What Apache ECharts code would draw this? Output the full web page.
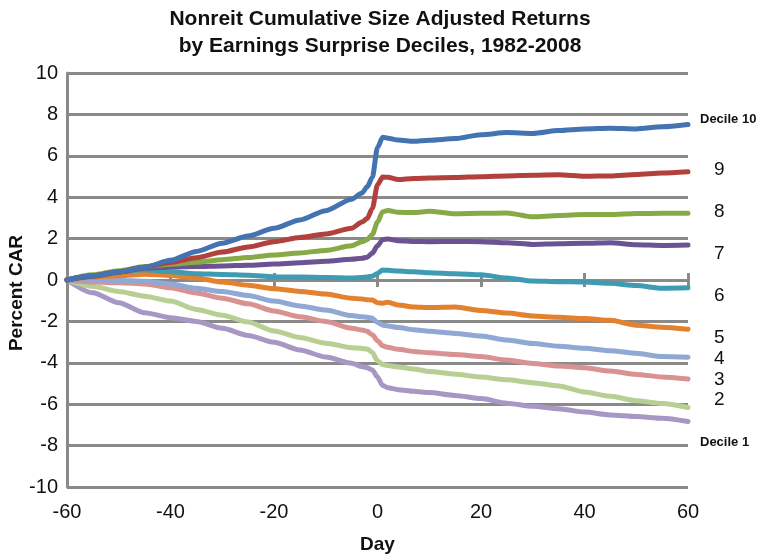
<!DOCTYPE html>
<html>
<head>
<meta charset="utf-8">
<script src="https://cdn.jsdelivr.net/npm/echarts@6/dist/echarts.min.js"></script>
<style>html,body{margin:0;padding:0;background:#fff}#c{width:760px;height:559px}</style>
</head>
<body>
<div id="c"></div>
<script>
var days = [-60,-55,-50,-45,-40,-35,-30,-25,-20,-15,-10,-5,-3,-2,-1,0,1,2,4,7,10,15,20,25,30,35,40,45,50,55,60];
var decile10 = [0,0.2,0.4,0.62,0.95,1.38,1.78,2.12,2.5,2.9,3.35,3.9,4.2,4.5,4.95,6.4,6.9,6.85,6.76,6.7,6.75,6.83,7.02,7.12,7.08,7.22,7.3,7.33,7.3,7.4,7.51];
var decile9 = [0,0.2,0.4,0.62,0.85,1.08,1.35,1.6,1.85,2.05,2.22,2.5,2.8,2.97,3.45,4.6,4.97,4.96,4.85,4.9,4.93,4.95,4.99,5.03,5.06,5.08,5.01,5.03,5.1,5.17,5.23];
var decile8 = [0,0.25,0.45,0.65,0.76,0.86,0.98,1.09,1.21,1.31,1.43,1.65,1.85,1.95,2.2,2.8,3.3,3.36,3.27,3.26,3.32,3.2,3.22,3.24,3.05,3.12,3.16,3.16,3.21,3.22,3.22];
var decile7 = [0,0.18,0.38,0.58,0.63,0.65,0.68,0.71,0.77,0.83,0.9,1.0,1.05,1.1,1.3,1.65,1.95,1.98,1.9,1.86,1.85,1.86,1.85,1.8,1.72,1.75,1.77,1.8,1.7,1.67,1.69];
var decile6 = [0,0.22,0.4,0.5,0.4,0.3,0.27,0.23,0.15,0.14,0.12,0.1,0.12,0.15,0.18,0.32,0.48,0.47,0.43,0.4,0.35,0.3,0.25,0.1,-0.05,-0.08,-0.1,-0.16,-0.27,-0.4,-0.38];
var decile5 = [0,0.15,0.2,0.28,0.22,0.1,-0.1,-0.25,-0.42,-0.55,-0.68,-0.88,-0.92,-0.95,-0.97,-1.1,-1.12,-1.07,-1.21,-1.3,-1.33,-1.3,-1.47,-1.6,-1.74,-1.8,-1.86,-1.95,-2.18,-2.28,-2.38];
var decile4 = [0,0,-0.02,-0.06,-0.19,-0.4,-0.56,-0.75,-1.02,-1.25,-1.45,-1.72,-1.78,-1.8,-1.85,-2.05,-2.18,-2.22,-2.3,-2.4,-2.47,-2.58,-2.7,-2.9,-3.07,-3.2,-3.3,-3.42,-3.54,-3.7,-3.73];
var decile3 = [0,-0.1,-0.13,-0.19,-0.38,-0.63,-0.88,-1.15,-1.5,-1.78,-2.0,-2.33,-2.42,-2.48,-2.65,-2.93,-3.18,-3.25,-3.35,-3.45,-3.52,-3.6,-3.7,-3.87,-4.03,-4.15,-4.24,-4.4,-4.56,-4.68,-4.78];
var decile2 = [0,-0.3,-0.55,-0.78,-1.02,-1.42,-1.7,-2.03,-2.46,-2.78,-3.05,-3.27,-3.31,-3.33,-3.5,-3.9,-4.08,-4.13,-4.2,-4.3,-4.42,-4.55,-4.69,-4.82,-4.96,-5.12,-5.41,-5.62,-5.83,-5.97,-6.16];
var decile1 = [0,-0.62,-1.1,-1.58,-1.82,-2.0,-2.33,-2.68,-3.01,-3.38,-3.72,-4.02,-4.18,-4.24,-4.35,-4.69,-5.1,-5.2,-5.3,-5.38,-5.44,-5.58,-5.73,-5.95,-6.1,-6.22,-6.38,-6.52,-6.6,-6.68,-6.84];

var seriesNames = ['Decile 1','2','3','4','5','6','7','8','9','Decile 10'];
var seriesValues = [decile1,decile2,decile3,decile4,decile5,decile6,decile7,decile8,decile9,decile10];
var seriesColors = ['#a797c4','#b7cf93','#d89292','#8fa8d4','#e3812f','#3e9bb1','#6b5292','#88aa46','#b2403d','#4473b2'];
var yTicks = {min:-10, max:10, interval:2};
var xTicks = {min:-60, max:60, interval:20};

var endLabels = [
  {text:'Decile 10', x:700, y:119, bold:true},
  {text:'9', x:714, y:170}, {text:'8', x:714, y:212}, {text:'7', x:714, y:254},
  {text:'6', x:714, y:296}, {text:'5', x:714, y:338}, {text:'4', x:714, y:359},
  {text:'3', x:714, y:380}, {text:'2', x:714, y:400},
  {text:'Decile 1', x:700, y:442, bold:true}
];

var FONT = '"Liberation Sans", Arial, Helvetica, sans-serif';
var GRAY = '#8a8a8a';

var chart = echarts.init(document.getElementById('c'), null, {renderer:'canvas'});

var series = seriesValues.map(function(vals, i){
  return {
    name: seriesNames[i], type:'line', xAxisIndex:0, yAxisIndex:0,
    data: days.map(function(d, j){ return [d, vals[j]]; }),
    showSymbol:false, symbol:'none', smooth:0.25, smoothMonotone:'x',
    lineStyle:{color:seriesColors[i], width:5, cap:'round', join:'round'},
    itemStyle:{color:seriesColors[i]}, z:3, animation:false
  };
});

var graphics = endLabels.map(function(l){
  return {
    type:'text', x:l.x, y:l.y,
    style:{text:l.text, fill:'#111', font:(l.bold ? 'bold 13px ' : '19px ') + FONT,
           textAlign:'left', textVerticalAlign:'middle', verticalAlign:'middle'}
  };
});
graphics.push({
  type:'text', x:17, y:293, rotation:Math.PI/2,
  style:{text:'Percent CAR', fill:'#111', font:'bold 19px ' + FONT,
         textAlign:'center', textVerticalAlign:'middle', align:'center', verticalAlign:'middle'}
});

chart.setOption({
  animation:false,
  backgroundColor:'#fff',
  title:{
    text:'Nonreit Cumulative Size Adjusted Returns\nby Earnings Surprise Deciles, 1982-2008',
    left:'center', top:1,
    textStyle:{fontFamily:FONT, fontWeight:'bold', fontSize:21, color:'#111', lineHeight:27}
  },
  grid:{left:67, right:72, top:73, bottom:68, containLabel:false},
  xAxis:[
    {type:'value', min:xTicks.min, max:xTicks.max, interval:xTicks.interval, position:'bottom',
     name:'Day', nameLocation:'middle', nameGap:48,
     nameTextStyle:{fontFamily:FONT, fontWeight:'bold', fontSize:19, color:'#111'},
     axisLine:{show:false, onZero:false}, axisTick:{show:false},
     axisLabel:{fontFamily:FONT, fontSize:20, color:'#111', margin:15},
     splitLine:{show:false}},
    {type:'value', min:xTicks.min, max:xTicks.max, interval:xTicks.interval, position:'top',
     axisLine:{show:true, onZero:true, onZeroAxisIndex:0, lineStyle:{color:GRAY, width:3}},
     axisTick:{show:true, length:7, inside:false, lineStyle:{color:GRAY, width:3}},
     axisLabel:{show:false}, splitLine:{show:false}},
    {type:'value', min:xTicks.min, max:xTicks.max, interval:xTicks.interval, position:'top',
     axisLine:{show:false, onZero:true, onZeroAxisIndex:0},
     axisTick:{show:true, length:7, inside:true, lineStyle:{color:GRAY, width:3}},
     axisLabel:{show:false}, splitLine:{show:false}}
  ],
  yAxis:{type:'value', min:yTicks.min, max:yTicks.max, interval:yTicks.interval,
    axisLine:{show:true, onZero:false, lineStyle:{color:GRAY, width:3}},
    axisTick:{show:false},
    axisLabel:{fontFamily:FONT, fontSize:20, color:'#111', margin:9},
    splitLine:{show:true, lineStyle:{color:GRAY, width:3}}
  },
  graphic:graphics,
  series:series
});
</script>
</body>
</html>
